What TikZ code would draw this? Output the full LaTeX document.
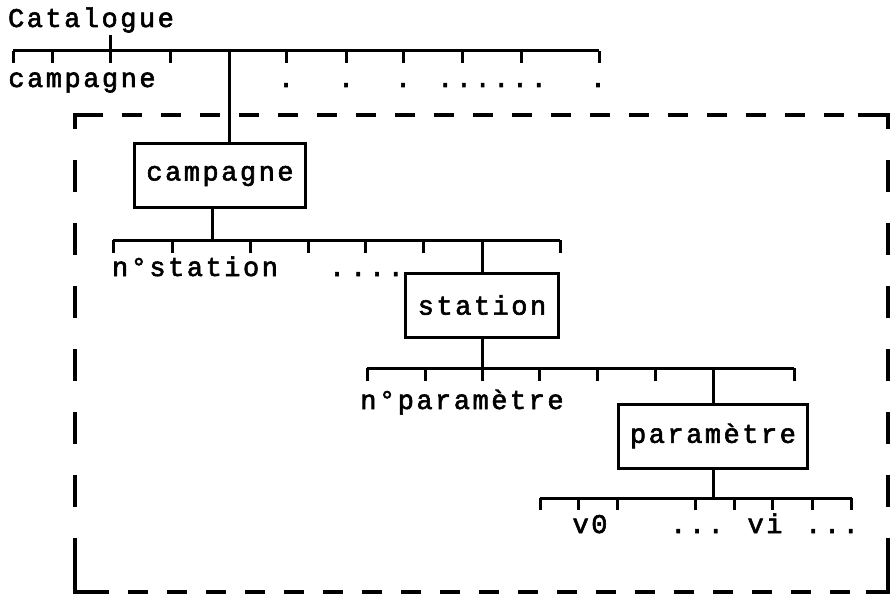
\documentclass[tikz,border=0pt]{standalone}
\usepackage{fontspec}
\newfontfamily\machine[LetterSpace=9.3, FakeBold=2.2]{Liberation Mono}
\tikzset{
  barre/.style={line width=3pt},
  cadre/.style={line width=4pt},
  boite/.style={draw, line width=3pt, inner xsep=12pt, inner ysep=0pt,
    minimum height=64pt, font=\machine\fontsize{27}{32}\selectfont},
  texte/.style={anchor=base, inner sep=0pt,
    font=\machine\fontsize{27}{32}\selectfont}
}
\begin{document}
\begin{tikzpicture}[x=1pt, y=-1pt]

\useasboundingbox (0,0) rectangle (894,596);

% Catalogue
\node[texte] (cat) at (91,27) {Catalogue};
\node[texte] (cam0) at (82,87) {campagne};
\node[texte] (d1) at (286,87) {.};
\node[texte] (d2) at (346,87) {.};
\node[texte] (d3) at (403,87) {.};
\node[texte] (d4) at (492,87) {......};
\node[texte] (d5) at (598,87) {.};
\coordinate (b1g) at (13,51);
\coordinate (b1d) at (599,51);
\coordinate (catp) at (110,35);
\draw[barre] (b1g) -- (b1d);
\draw[barre] (catp) -- (catp |- b1g);
\foreach \x in {13,52,110,170,229,286,346,403,462,521,599}
  \draw[barre] (\x,51) -- (\x,63);

% Cadre en tirets
\draw[cadre] (75,128) -- (75,115) -- (103,115);
\draw[cadre] (858,115) -- (888,115) -- (888,128);
\draw[cadre] (75,542) -- (75,592) -- (108,592);
\draw[cadre] (866,592) -- (888,592) -- (888,540);
\draw[cadre, dash pattern=on 20pt off 19pt, dash phase=31pt] (75,115) -- (888,115);
\draw[cadre, dash pattern=on 20pt off 19pt, dash phase=25pt] (75,592) -- (888,592);
\draw[cadre, dash pattern=on 32pt off 31pt, dash phase=18pt] (75,115) -- (75,592);
\draw[cadre, dash pattern=on 32pt off 31pt, dash phase=18pt] (888,115) -- (888,592);

% Campagne
\node[boite] (camp) at (220,176) {campagne};
\coordinate (c5) at (229,51);
\draw[barre] (c5) -- (camp.north -| c5);
\coordinate (b2g) at (113,240);
\coordinate (b2d) at (560,240);
\coordinate (s0) at (212,240);
\draw[barre] (camp.south -| s0) -- (s0);
\draw[barre] (b2g) -- (b2d);
\foreach \x in {113,172,250,308,365,423,482,560}
  \draw[barre] (\x,240) -- (\x,253);
\node[texte] (nst) at (195,276) {n°station};
\node[texte] (p1) at (337,276) {.};
\node[texte] (p2) at (377,276) {...};

% Station
\node[boite] (sta) at (482,305) {station};
\coordinate (s6) at (482,240);
\draw[barre] (s6) -- (sta.north);
\coordinate (b3g) at (367,368);
\coordinate (b3d) at (794,368);
\draw[barre] (sta.south) -- (sta.south |- b3g);
\draw[barre] (b3g) -- (b3d);
\foreach \x in {367,425,482,539,597,655,713,794}
  \draw[barre] (\x,368) -- (\x,381);
\node[texte] (npar) at (462,409) {n°paramètre};

% Paramètre
\node[boite] (par) at (713,436) {paramètre};
\coordinate (t6) at (713,368);
\draw[barre] (t6) -- (par.north);
\coordinate (b4g) at (540,498);
\coordinate (b4d) at (852,498);
\draw[barre] (par.south) -- (par.south |- b4g);
\draw[barre] (b4g) -- (b4d);
\foreach \x in {540,578,617,695,734,772,812,851}
  \draw[barre] (\x,498) -- (\x,510);
\node[texte] (v0) at (590,533) {v0};
\node[texte] (q1) at (697,533) {...};
\node[texte] (vi) at (765,533) {vi};
\node[texte] (q2) at (832,533) {...};

\end{tikzpicture}
\end{document}
